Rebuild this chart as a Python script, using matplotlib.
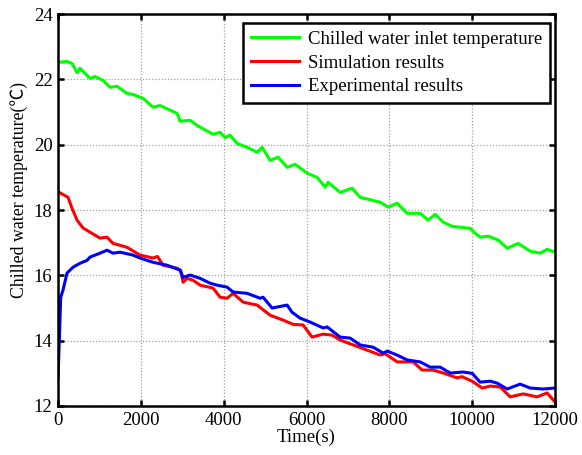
import matplotlib
matplotlib.use("Agg")
import matplotlib.pyplot as plt

plt.rcParams['font.family'] = ['Liberation Serif', 'Noto Sans CJK SC', 'DejaVu Sans']

# chilled water inlet temperature (green)
t_in = [0, 215, 338, 459, 531, 773, 894, 1087, 1256, 1425, 1667, 1812, 2053, 2295, 2464,
        2874, 2947, 3188, 3357, 3744, 3913, 4034, 4155, 4324, 4565, 4807, 4928, 5121, 5314,
        5531, 5725, 6014, 6256, 6449, 6522, 6812, 7101, 7295, 7778, 7971, 8188, 8430, 8744,
        8937, 9106, 9300, 9517, 9952, 10072, 10193, 10386, 10628, 10845, 11111, 11401, 11643,
        11812, 12000]
v_in = [22.52, 22.55, 22.49, 22.21, 22.34, 22.03, 22.09, 21.97, 21.76, 21.79, 21.57, 21.54,
        21.42, 21.15, 21.20, 20.96, 20.72, 20.75, 20.59, 20.32, 20.38, 20.22, 20.29, 20.04,
        19.92, 19.77, 19.92, 19.52, 19.62, 19.31, 19.40, 19.13, 19.00, 18.70, 18.85, 18.54,
        18.67, 18.39, 18.24, 18.09, 18.21, 17.90, 17.90, 17.69, 17.87, 17.63, 17.50, 17.44,
        17.29, 17.17, 17.20, 17.08, 16.83, 16.98, 16.74, 16.68, 16.80, 16.71]

# simulation results (red)
t_sim = [0, 242, 338, 459, 604, 1014, 1183, 1328, 1667, 1981, 2295, 2400, 2536, 2874, 2960,
         3019, 3116, 3261, 3430, 3744, 3913, 4082, 4227, 4469, 4807, 5121, 5435, 5676, 5918,
         6135, 6401, 6618, 6812, 7126, 7464, 7778, 7900, 8188, 8575, 8792, 9058, 9300, 9638,
         9750, 10000, 10241, 10435, 10676, 10918, 11232, 11570, 11812, 12000]
v_sim = [18.56, 18.39, 18.05, 17.69, 17.45, 17.14, 17.17, 16.98, 16.86, 16.62, 16.53, 16.58,
         16.31, 16.22, 16.15, 15.79, 15.91, 15.85, 15.70, 15.61, 15.33, 15.30, 15.45, 15.18,
         15.09, 14.78, 14.63, 14.50, 14.48, 14.11, 14.20, 14.17, 14.02, 13.87, 13.71, 13.56,
         13.60, 13.35, 13.35, 13.10, 13.10, 13.01, 12.86, 12.90, 12.76, 12.55, 12.61, 12.58,
         12.28, 12.37, 12.28, 12.40, 12.12]

# experimental results (blue)
t_exp = [0, 65, 120, 217, 362, 531, 700, 773, 1014, 1183, 1328, 1498, 1812, 1981, 2295, 2633,
         2947, 3019, 3188, 3430, 3671, 3841, 4082, 4227, 4565, 4879, 4952, 5169, 5531, 5652,
         5845, 6087, 6401, 6500, 6812, 7053, 7295, 7609, 7850, 7950, 8188, 8430, 8744, 8986,
         9227, 9469, 9783, 10000, 10193, 10435, 10604, 10845, 11159, 11401, 11715, 12000]
v_exp = [12.85, 15.33, 15.55, 16.07, 16.25, 16.37, 16.46, 16.56, 16.68, 16.77, 16.68, 16.71,
         16.62, 16.53, 16.40, 16.31, 16.16, 15.94, 16.01, 15.91, 15.76, 15.70, 15.64, 15.49,
         15.45, 15.30, 15.33, 15.00, 15.09, 14.87, 14.69, 14.57, 14.39, 14.42, 14.11, 14.08,
         13.87, 13.80, 13.62, 13.68, 13.56, 13.41, 13.35, 13.19, 13.19, 13.01, 13.04, 13.00,
         12.73, 12.76, 12.70, 12.52, 12.67, 12.55, 12.52, 12.55]

fs = 13.5

fig = plt.figure(figsize=(5.82, 4.55), dpi=100)
ax = fig.add_axes([0.0997, 0.1077, 0.8539, 0.8613])

ax.plot(t_in, v_in, color='#00ff00', lw=2.2, label='Chilled water inlet temperature')
ax.plot(t_sim, v_sim, color='#ff0000', lw=2.2, label='Simulation results')
ax.plot(t_exp, v_exp, color='#0000ff', lw=2.2, label='Experimental results')

ax.set_xlim(0, 12000)
ax.set_ylim(12, 24)
ax.set_xticks(range(0, 12001, 2000))
ax.set_yticks(range(12, 25, 2))
ax.grid(True, color='#a0a0a0', linestyle=(0, (1, 1.5)), linewidth=0.9)
ax.tick_params(direction='in', length=4, width=1.8, labelsize=fs, top=True, right=True, pad=4)
for s in ax.spines.values():
    s.set_linewidth(1.8)

ax.set_xlabel('Time(s)', fontsize=fs, labelpad=0)
ax.set_ylabel('Chilled water temperature(℃)', fontsize=12.8)
ax.yaxis.set_label_coords(-0.06, 0.55)

leg = ax.legend(loc='upper right', bbox_to_anchor=(0.99, 0.978), fontsize=fs, fancybox=False,
                framealpha=1, edgecolor='black', handlelength=2.6, handletextpad=0.45,
                borderpad=0.42, labelspacing=0.36, borderaxespad=0)
leg.get_frame().set_linewidth(1.8)

fig.savefig('out.png', dpi=100)
